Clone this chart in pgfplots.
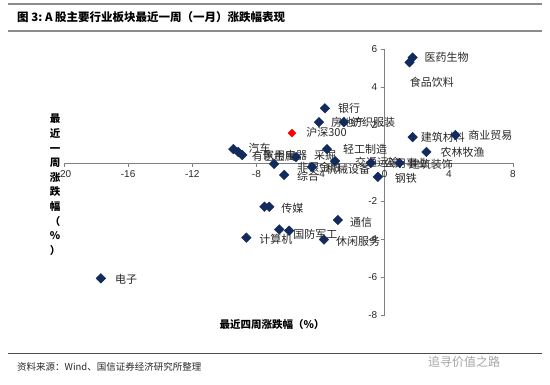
\documentclass[border=0pt]{standalone}
\usepackage{pgfplots}
\pgfplotsset{compat=1.18}
\usepackage{fontspec}
\setmainfont{Liberation Sans}
\newfontfamily\cjk{Noto Sans CJK SC}
\definecolor{navy}{RGB}{18,43,92}
\definecolor{rulegray}{RGB}{140,140,140}
\definecolor{axgray}{RGB}{128,128,128}
\definecolor{lbl}{RGB}{40,40,40}
\begin{document}
\begin{tikzpicture}[x=1pt,y=1pt]
\useasboundingbox (0,0) rectangle (550,385);
\fill[white] (0,0) rectangle (550,385);
% title bar
\draw[rulegray, line width=1.6pt] (8,381) -- (542,381);
\draw[rulegray, line width=1.6pt] (8,354) -- (542,354);
\node[anchor=west, inner sep=0, font=\cjk\bfseries\fontsize{11.5}{13}\selectfont] at (17,368) {图\ 3:\ A 股主要行业板块最近一周（一月）涨跌幅表现};
% bottom
\draw[black!70, line width=0.8pt] (8,32) -- (542,32);
\node[anchor=west, inner sep=0, font=\cjk\fontsize{9.5}{11}\selectfont, text=lbl] at (17,18) {资料来源：Wind、国信证券经济研究所整理};
\node[anchor=west, inner sep=0, font=\cjk\fontsize{12}{13}\selectfont, text=black!35] at (428,23) {追寻价值之路};
% y label
\node[align=center, inner sep=0, font=\cjk\bfseries\fontsize{10.5}{14.6}\selectfont, anchor=north] at (55,271) {最\\近\\一\\周\\涨\\跌\\幅\\（\\\%\\）};
% x label
\node[inner sep=0, font=\cjk\bfseries\fontsize{10.5}{12}\selectfont] at (272,60) {最近四周涨跌幅（\%）};
\begin{axis}[
  at={(64pt,70pt)}, anchor=south west,
  scale only axis, width=449pt, height=266pt,
  xmin=-20, xmax=8, ymin=-8, ymax=6,
  axis lines=middle,
  axis line style={axgray, line width=0.8pt, -},
  xtick={-20,-16,-12,-8,-4,0,4,8},
  ytick={-8,-6,-4,-2,2,4,6},
  hide obscured x ticks=false,
  tick style={axgray, line width=0.8pt},
  tick align=outside,
  major tick length=4pt,
  ticklabel style={font=\fontsize{10}{11}\selectfont, text=lbl},
  /pgf/number format/assume math mode=true,
  clip=false,
]
\addplot[only marks, mark=square*, mark size=3.4pt, mark options={rotate=45, fill=navy, draw=navy}] coordinates {
(1.74,5.55) (1.55,5.30) (-3.73,2.88) (-4.10,2.15) (-2.55,2.15)
(1.74,1.36) (4.41,1.47) (-3.60,0.73) (2.60,0.58)
(-9.44,0.73) (-9.13,0.58) (-8.88,0.42) (-5.53,0.31) (-6.90,-0.05)
(-6.27,-0.63) (-4.53,-0.21) (-3.10,0.10) (-0.87,0.00) (0.93,0.00)
(-0.43,-0.73) (-7.50,-2.30) (-7.20,-2.30) (-2.92,-3.00) (-8.63,-3.93)
(-6.58,-3.50) (-5.96,-3.56) (-3.79,-4.03) (-17.70,-6.07)
};
\addplot[only marks, mark=square*, mark size=2.8pt, mark options={rotate=45, fill=red, draw=red}] coordinates {(-5.78,1.57)};
\begin{scope}[every node/.style={anchor=west, inner sep=0, text=lbl, font=\cjk\fontsize{11}{12}\selectfont}]
\node at (axis cs:2.48,5.58) {医药生物};
\node at (axis cs:1.55,4.26) {食品饮料};
\node at (axis cs:-2.92,2.89) {银行};
\node at (axis cs:-3.35,2.16) {房地产};
\node at (axis cs:-2.11,2.16) {纺织服装};
\node at (axis cs:-4.90,1.63) {沪深300};
\node at (axis cs:2.24,1.37) {建筑材料};
\node at (axis cs:5.20,1.47) {商业贸易};
\node at (axis cs:-2.60,0.74) {轻工制造};
\node at (axis cs:3.48,0.58) {农林牧渔};
\node at (axis cs:-8.50,0.79) {汽车};
\node at (axis cs:-8.30,0.37) {有色金属};
\node at (axis cs:-7.60,0.42) {家用电器};
\node at (axis cs:-4.41,0.42) {采掘};
\node at (axis cs:-5.47,-0.21) {非银金融};
\node at (axis cs:-3.66,-0.32) {机械设备};
\node at (axis cs:-5.47,-0.68) {综合};
\node at (axis cs:-1.86,0.05) {交通运输};
\node at (axis cs:-0.05,0.00) {公用事业};
\node at (axis cs:1.49,-0.05) {建筑装饰};
\node at (axis cs:0.62,-0.79) {钢铁};
\node at (axis cs:-6.46,-2.37) {传媒};
\node at (axis cs:-2.17,-3.10) {通信};
\node at (axis cs:-7.83,-4.00) {计算机};
\node at (axis cs:-5.71,-3.74) {国防军工};
\node at (axis cs:-3.04,-4.10) {休闲服务};
\node at (axis cs:-16.83,-6.10) {电子};
\end{scope}
\end{axis}
\end{tikzpicture}
\end{document}
